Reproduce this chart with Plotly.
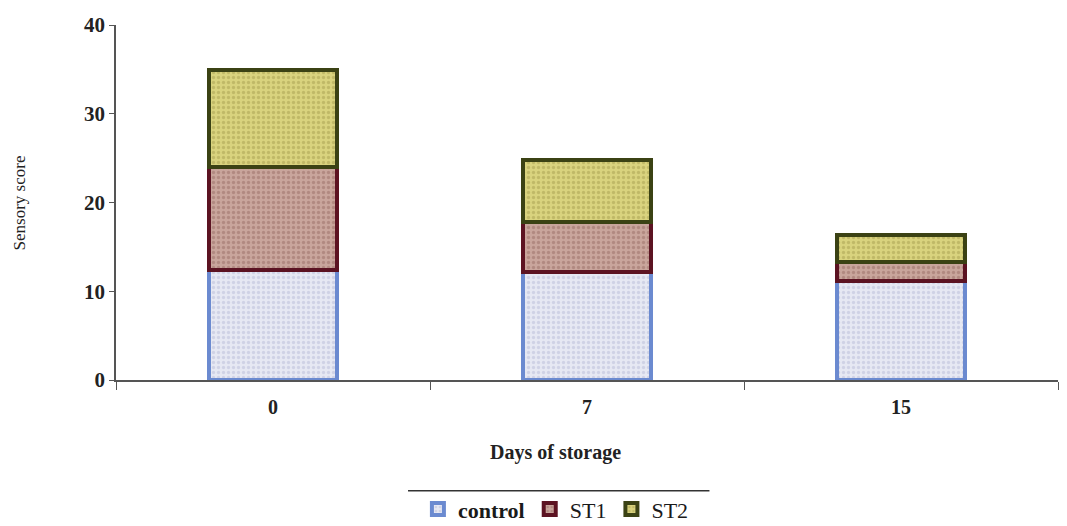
import plotly.graph_objects as go

days = ["0", "7", "15"]
control = [12.4, 12.2, 11.1]
st1 = [11.6, 5.6, 2.2]
st2 = [10.9, 7.0, 3.0]

series = [
    ("<b>control</b>", control, "#e6e8f3", "#b8bcd8", "#6b8ad0"),
    ("ST1", st1, "#c9a59c", "#9a6e66", "#5c1322"),
    ("ST2", st2, "#d9d37e", "#a8a050", "#3b4214"),
]

fig = go.Figure()
for name, vals, bg, fg, line in series:
    fig.add_trace(go.Bar(
        x=days, y=vals, name=name,
        marker=dict(color=bg, line=dict(color=line, width=4),
                    pattern=dict(shape=".", bgcolor=bg, fgcolor=fg, size=5, solidity=0.35)),
    ))

fig.update_layout(
    barmode="stack", bargap=0.59,
    width=1067, height=526,
    margin=dict(l=116, r=9, t=25, b=146, autoexpand=False),
    plot_bgcolor="white", paper_bgcolor="white",
    font=dict(family="Liberation Serif", color="#2a2a2a"),
    showlegend=True,
    legend=dict(orientation="h", x=0.467, xanchor="center", y=-0.305, yanchor="top",
                bgcolor="rgba(0,0,0,0)",
                font=dict(size=22, family="Liberation Serif", color="#1a1a1a"),
                itemwidth=30, traceorder="normal", tracegroupgap=0),
    xaxis=dict(type="category", showline=True, linecolor="#555", linewidth=1.5,
               ticks="outside", tickson="boundaries", ticklen=8, tickcolor="#555",
               automargin=False, ticklabelstandoff=8,
               tickfont=dict(size=20, family="Liberation Serif", color="#222", weight="bold")),
    yaxis=dict(range=[0, 40], tickvals=[0, 10, 20, 30, 40], showline=True, linecolor="#555",
               linewidth=1.5, ticks="outside", ticklen=5, tickcolor="#555", showgrid=False,
               zeroline=False, automargin=False,
               tickfont=dict(size=21, family="Liberation Serif", color="#222", weight="bold")),
)
fig.add_annotation(text="<b>Days of storage</b>", xref="paper", yref="paper", x=0.467, y=-0.205,
                   showarrow=False, yanchor="middle", font=dict(size=20, color="#222"))
fig.add_annotation(text="Sensory score", xref="paper", yref="paper", x=-0.102, y=0.5,
                   textangle=-90, showarrow=False, xanchor="center",
                   font=dict(size=17, color="#222"))
fig.add_shape(type="line", xref="paper", yref="paper", x0=0.31, x1=0.63, y0=-0.312, y1=-0.312,
              line=dict(color="#333", width=1.5))
fig.write_html("out.html")
